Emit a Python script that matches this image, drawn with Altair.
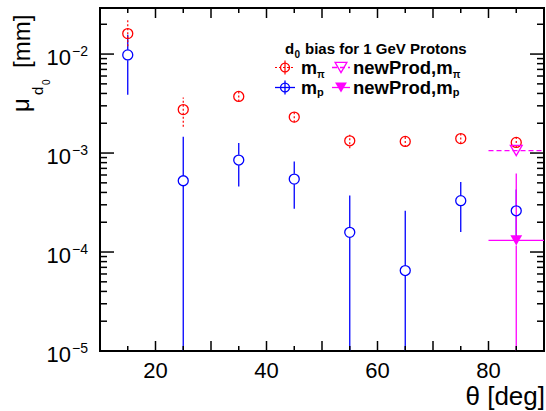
import altair as alt
import pandas as pd
import numpy as np

# ---------------- data ----------------
theta = [15, 25, 35, 45, 55, 65, 75, 85]
# m_pi (red, dashed errors)
mpi = [1.61e-2, 2.75e-3, 3.73e-3, 2.31e-3, 1.33e-3, 1.31e-3, 1.40e-3, 1.28e-3]
mpi_hi = [2.19e-2, 3.65e-3, 4.19e-3, 2.60e-3, 1.53e-3, 1.48e-3, 1.56e-3, 1.42e-3]
mpi_lo = [1.20e-2, 1.84e-3, 3.32e-3, 2.05e-3, 1.12e-3, 1.15e-3, 1.25e-3, 1.15e-3]
# m_p (blue)
mp = [9.8e-3, 5.25e-4, 8.5e-4, 5.46e-4, 1.58e-4, 6.5e-5, 3.3e-4, 2.61e-4]
mp_hi = [1.57e-2, 1.46e-3, 1.26e-3, 8.23e-4, 3.73e-4, 2.61e-4, 5.1e-4, 4.27e-4]
mp_lo = [3.88e-3, 1e-5, 4.6e-4, 2.74e-4, 1e-5, 1e-5, 1.59e-4, 1.3e-4]
# newProd (magenta)
np_theta = [85]
np_xlo = [80]
np_xhi = [90]
np_mpi = [1.06e-3]
np_mp = [1.31e-4]
np_mp_hi = [6.2e-4]
np_mp_lo = [1e-5]

x_labels = [20, 40, 60, 80]
y_decades = [1e-5, 1e-4, 1e-3, 1e-2]
y_exps = ["\u22125", "\u22124", "\u22123", "\u22122"]

# ---------------- style ----------------
W, H = 444, 343
YMIN, YMAX = 1e-5, 0.0292
XMIN, XMAX = 10, 90
RED, BLUE, MAG = "#ff0000", "#0000ff", "#ff00ff"
FONT = "Liberation Sans"
PX_PER_DEC = H / np.log10(YMAX / YMIN)
GAP = 10 ** (5.2 / PX_PER_DEC)  # marker half-size expressed as a ratio

xs = alt.Scale(domain=[XMIN, XMAX], nice=False, zero=False)
ys = alt.Scale(type="log", domain=[YMIN, YMAX], nice=False)


def X(f):
    return alt.X(f"{f}:Q", scale=xs, axis=None)


def Y(f):
    return alt.Y(f"{f}:Q", scale=ys, axis=None)


# ---------------- tables ----------------
red_df = pd.DataFrame({"t": theta, "v": mpi, "lo": mpi_lo, "hi": mpi_hi})
blue_df = pd.DataFrame({"t": theta, "v": mp})


def gapped(ts, vs, los, his):
    rows = []
    for t, v, lo, hi in zip(ts, vs, los, his):
        if hi > v * GAP:
            rows.append({"t": t, "a": v * GAP, "b": hi})
        if lo < v / GAP:
            rows.append({"t": t, "a": lo, "b": v / GAP})
    return pd.DataFrame(rows)


blue_seg = gapped(theta, mp, mp_lo, mp_hi)
mag_seg = gapped(np_theta, np_mp, np_mp_lo, np_mp_hi)

np_pi_df = pd.DataFrame({"t": np_theta, "x0": np_xlo, "x1": np_xhi, "v": np_mpi})
np_p_df = pd.DataFrame({"t": np_theta, "x0": np_xlo, "x1": np_xhi, "v": np_mp})

# ticks
y_major = pd.DataFrame({"v": y_decades})
y_minor = pd.DataFrame({"v": [m * d for d in [1e-5, 1e-4, 1e-3, 1e-2] for m in range(2, 10) if m * d <= YMAX]})
x_major = pd.DataFrame({"v": list(range(20, 90, 10))})
x_minor = pd.DataFrame({"v": list(range(15, 90, 10))})
ylab_df = pd.DataFrame({"v": y_decades, "e": y_exps})
xlab_df = pd.DataFrame({"v": x_labels, "s": [str(v) for v in x_labels]})

one = pd.DataFrame({"a": [0]})

layers = []

# ---- error bars ----
layers.append(
    alt.Chart(blue_seg).mark_rule(color=BLUE, strokeWidth=1.3, clip=True)
    .encode(x=X("t"), y=Y("a"), y2=alt.Y2("b:Q"))
)
layers.append(
    alt.Chart(red_df).mark_rule(color=RED, strokeWidth=1.2, strokeDash=[2, 2], clip=True)
    .encode(x=X("t"), y=Y("lo"), y2=alt.Y2("hi:Q"))
)
layers.append(
    alt.Chart(mag_seg).mark_rule(color=MAG, strokeWidth=1.3, clip=True)
    .encode(x=X("t"), y=Y("a"), y2=alt.Y2("b:Q"))
)
layers.append(
    alt.Chart(np_pi_df).mark_rule(color=MAG, strokeWidth=1.3, strokeDash=[5, 3], clip=True)
    .encode(x=X("x0"), x2=alt.X2("x1:Q"), y=Y("v"))
)
layers.append(
    alt.Chart(np_p_df).mark_rule(color=MAG, strokeWidth=1.3, clip=True)
    .encode(x=X("x0"), x2=alt.X2("x1:Q"), y=Y("v"))
)

# ---- markers ----
layers.append(
    alt.Chart(red_df).mark_point(shape="circle", filled=False, size=100, strokeWidth=1.3, color=RED, opacity=1)
    .encode(x=X("t"), y=Y("v"))
)
layers.append(
    alt.Chart(blue_df).mark_point(shape="circle", filled=False, size=100, strokeWidth=1.3, color=BLUE, opacity=1)
    .encode(x=X("t"), y=Y("v"))
)
layers.append(
    alt.Chart(np_pi_df).mark_point(shape="triangle-down", filled=False, size=140, strokeWidth=1.3, color=MAG, opacity=1)
    .encode(x=X("t"), y=Y("v"))
)
layers.append(
    alt.Chart(np_p_df).mark_point(shape="triangle-down", filled=True, size=140, color=MAG, opacity=1)
    .encode(x=X("t"), y=Y("v"))
)

# ---- ticks (inside, ROOT style, on all four sides) ----
TK = "black"
layers += [
    alt.Chart(y_major).mark_rule(color=TK, strokeWidth=1.5).encode(y=Y("v"), x=alt.value(0), x2=alt.value(14)),
    alt.Chart(y_major).mark_rule(color=TK, strokeWidth=1.5).encode(y=Y("v"), x=alt.value(W - 14), x2=alt.value(W)),
    alt.Chart(y_minor).mark_rule(color=TK, strokeWidth=1.5).encode(y=Y("v"), x=alt.value(0), x2=alt.value(7)),
    alt.Chart(y_minor).mark_rule(color=TK, strokeWidth=1.5).encode(y=Y("v"), x=alt.value(W - 7), x2=alt.value(W)),
    alt.Chart(x_major).mark_rule(color=TK, strokeWidth=1.5).encode(x=X("v"), y=alt.value(H), y2=alt.value(H - 10)),
    alt.Chart(x_major).mark_rule(color=TK, strokeWidth=1.5).encode(x=X("v"), y=alt.value(0), y2=alt.value(10)),
    alt.Chart(x_minor).mark_rule(color=TK, strokeWidth=1.5).encode(x=X("v"), y=alt.value(H), y2=alt.value(H - 5)),
    alt.Chart(x_minor).mark_rule(color=TK, strokeWidth=1.5).encode(x=X("v"), y=alt.value(0), y2=alt.value(5)),
]

# ---- tick labels ----
layers.append(
    alt.Chart(ylab_df).mark_text(text="10", font=FONT, fontSize=22, align="right", baseline="alphabetic", dy=11, color="black")
    .encode(y=Y("v"), x=alt.value(-29))
)
layers.append(
    alt.Chart(ylab_df).mark_text(font=FONT, fontSize=14, align="left", baseline="alphabetic", dy=2, color="black")
    .encode(y=Y("v"), x=alt.value(-28), text="e:N")
)
layers.append(
    alt.Chart(xlab_df).mark_text(font=FONT, fontSize=22, align="center", baseline="alphabetic", color="black")
    .encode(x=X("v"), y=alt.value(370), text="s:N")
)

# ---- axis titles ----
def txt(s, x, y, size, bold=False, align="left", angle=0, color="black"):
    kw = dict(text=s, font=FONT, fontSize=size, align=align, baseline="alphabetic", color=color,
              fontWeight="bold" if bold else "normal")
    if angle:
        kw["angle"] = angle
    return alt.Chart(one).mark_text(**kw).encode(x=alt.value(x), y=alt.value(y))


layers.append(txt("\u03b8 [deg]", W + 1, 397, 26, align="right"))
layers.append(txt("\u03bc", -71, 104, 24, angle=270))
layers.append(txt("d", -57, 87, 15, angle=270))
layers.append(txt("0", -50, 77, 10, angle=270))
layers.append(txt("[mm]", -70, 60, 24, angle=270))

# ---- legend ----
layers.append(txt("d", 185, 45.5, 15, bold=True))
layers.append(txt("0", 194.5, 49.5, 10, bold=True))
layers.append(txt("bias for 1 GeV Protons", 205, 45.5, 15, bold=True))

R1, R2 = 59.5, 79.5
LF = 18
# row 1 : m_pi (red)
layers.append(alt.Chart(one).mark_rule(color=RED, strokeWidth=1.2, strokeDash=[2, 2]).encode(
    x=alt.value(175), x2=alt.value(195), y=alt.value(R1)))
layers.append(alt.Chart(one).mark_rule(color=RED, strokeWidth=1.2).encode(
    x=alt.value(185), y=alt.value(R1 - 7), y2=alt.value(R1 + 7)))
layers.append(alt.Chart(one).mark_point(shape="circle", filled=False, size=80, strokeWidth=1.3, color=RED, opacity=1).encode(
    x=alt.value(185), y=alt.value(R1)))
layers.append(txt("m", 201, R1 + 6, LF, bold=True))
layers.append(txt("\u03c0", 201 + 0.889 * LF, R1 + 10, 10, bold=True))
# row 2 : m_p (blue)
layers.append(alt.Chart(one).mark_rule(color=BLUE, strokeWidth=1.3).encode(
    x=alt.value(175), x2=alt.value(195), y=alt.value(R2)))
layers.append(alt.Chart(one).mark_rule(color=BLUE, strokeWidth=1.3).encode(
    x=alt.value(185), y=alt.value(R2 - 7), y2=alt.value(R2 + 7)))
layers.append(alt.Chart(one).mark_point(shape="circle", filled=False, size=80, strokeWidth=1.3, color=BLUE, opacity=1).encode(
    x=alt.value(185), y=alt.value(R2)))
layers.append(txt("m", 201, R2 + 6, LF, bold=True))
layers.append(txt("p", 201 + 0.889 * LF, R2 + 8, 11, bold=True))
# row 1 : newProd m_pi
layers.append(alt.Chart(one).mark_rule(color=MAG, strokeWidth=1.3, strokeDash=[5, 3]).encode(
    x=alt.value(232), x2=alt.value(250), y=alt.value(R1)))
layers.append(alt.Chart(one).mark_point(shape="triangle-down", filled=False, size=140, strokeWidth=1.3, color=MAG, opacity=1).encode(
    x=alt.value(241), y=alt.value(R1)))
layers.append(txt("newProd,m", 253, R1 + 6, LF + 0.5, bold=True))
layers.append(txt("\u03c0", 253 + 5.39 * (LF + 0.5), R1 + 10, 10, bold=True))
# row 2 : newProd m_p
layers.append(alt.Chart(one).mark_rule(color=MAG, strokeWidth=1.3).encode(
    x=alt.value(232), x2=alt.value(250), y=alt.value(R2)))
layers.append(alt.Chart(one).mark_point(shape="triangle-down", filled=True, size=140, color=MAG, opacity=1).encode(
    x=alt.value(241), y=alt.value(R2)))
layers.append(txt("newProd,m", 253, R2 + 6, LF + 0.5, bold=True))
layers.append(txt("p", 253 + 5.39 * (LF + 0.5), R2 + 8, 11, bold=True))

chart = (
    alt.layer(*layers)
    .properties(
        width=W,
        height=H,
        autosize=alt.AutoSizeParams(type="none"),
        padding={"left": 100, "top": 8, "right": 2, "bottom": 60},
        background="white",
    )
    .configure_view(stroke="black", strokeWidth=2)
)

chart.save("out.html", embed_options={"renderer": "svg", "actions": False})
